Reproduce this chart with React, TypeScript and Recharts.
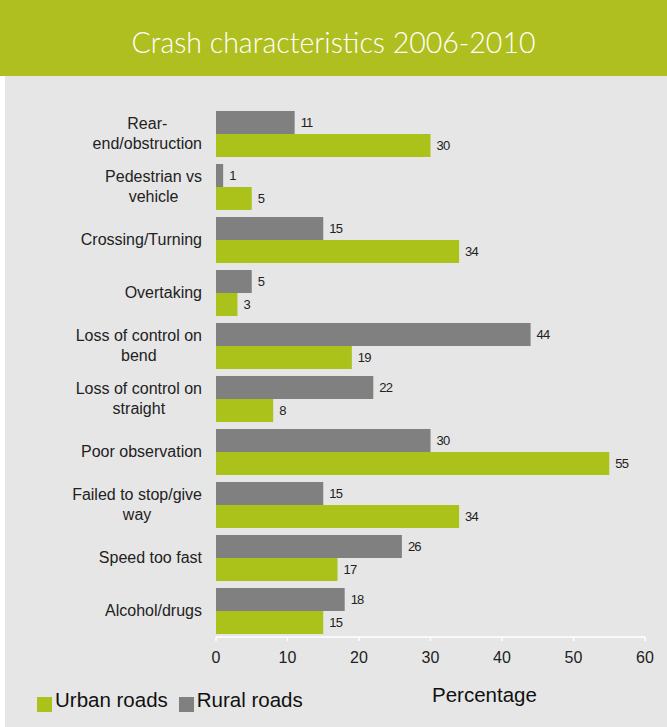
import React from 'react';
import { BarChart, Bar, XAxis, YAxis, LabelList } from 'recharts';

const categories = [
  'Rear-\nend/obstruction',
  'Pedestrian vs\nvehicle',
  'Crossing/Turning',
  'Overtaking',
  'Loss of control on\nbend',
  'Loss of control on\nstraight',
  'Poor observation',
  'Failed to stop/give\nway',
  'Speed too fast',
  'Alcohol/drugs',
];
const ruralValues = [11, 1, 15, 5, 44, 22, 30, 15, 26, 18];
const urbanValues = [30, 5, 34, 3, 19, 8, 55, 34, 17, 15];
const xTicks = [0, 10, 20, 30, 40, 50, 60];

const GREEN = '#abc21a';
const GREY = '#808080';
const BG = '#e6e6e6';
const FONT = '"Liberation Sans", Arial, sans-serif';
const LABEL_SIZE = 16;

const data = categories.map((name, i) => ({ name, rural: ruralValues[i], urban: urbanValues[i] }));

let ctx: CanvasRenderingContext2D | null = null;
const measure = (s: string) => {
  if (!ctx) {
    ctx = document.createElement('canvas').getContext('2d');
  }
  if (!ctx) return s.length * 7;
  ctx.font = `${LABEL_SIZE}px ${FONT}`;
  return ctx.measureText(s).width;
};

const CategoryTick = (props: any) => {
  const { x, y, payload } = props;
  const lines: string[] = String(payload.value).split('\n');
  const maxW = Math.max(...lines.map(measure));
  const cx = x - maxW / 2;
  const lh = 20;
  const start = y - ((lines.length - 1) * lh) / 2;
  return (
    <g>
      {lines.map((l, i) => (
        <text key={i} x={cx} y={start + i * lh} dy="0.35em" textAnchor="middle"
          fontFamily={FONT} fontSize={LABEL_SIZE} fill="#222">
          {l}
        </text>
      ))}
    </g>
  );
};

const valueStyle = { fill: '#222', fontSize: 13, fontFamily: FONT, letterSpacing: -0.8 };

export default function App() {
  return (
    <div style={{ position: 'absolute', left: 0, top: 0, width: 667, height: 727, background: '#fff', overflow: 'hidden' }}>
      <div style={{ position: 'absolute', left: 5, top: 76, width: 662, height: 651, background: BG }} />
      <div style={{
        position: 'absolute', left: 0, top: 0, width: 667, height: 76, background: '#b0bf20',
        color: '#fff', fontFamily: 'Lato, "Open Sans", sans-serif', fontWeight: 300, fontSize: 28.5,
        display: 'flex', alignItems: 'center', justifyContent: 'center', paddingBottom: 0, paddingTop: 8, boxSizing: 'border-box',
      }}>
        Crash characteristics 2006-2010
      </div>
      <div style={{ position: 'absolute', left: 0, top: 0 }}>
        <BarChart width={667} height={727} data={data} layout="vertical"
          margin={{ top: 107, right: 22, bottom: 60, left: 0 }} barGap={0} barSize={23}>
          <XAxis type="number" domain={[0, 60]} ticks={xTicks} height={30}
            axisLine={{ stroke: '#fff', strokeWidth: 1.5 }} tickLine={{ stroke: '#fff', strokeWidth: 1.5 }}
            tickSize={4} tickMargin={11}
            tick={{ fill: '#222', fontSize: 16, fontFamily: FONT }} />
          <YAxis type="category" dataKey="name" width={216} axisLine={false} tickLine={false}
            tickSize={0} tickMargin={14} tick={<CategoryTick />} interval={0} />
          <Bar dataKey="rural" fill={GREY} isAnimationActive={false}>
            <LabelList dataKey="rural" position="right" offset={6} style={valueStyle} />
          </Bar>
          <Bar dataKey="urban" fill={GREEN} isAnimationActive={false}>
            <LabelList dataKey="urban" position="right" offset={6} style={valueStyle} />
          </Bar>
        </BarChart>
      </div>
      <div style={{ position: 'absolute', left: 432, top: 683, fontFamily: FONT, fontSize: 20.5, color: '#111' }}>
        Percentage
      </div>
      <div style={{ position: 'absolute', left: 37, top: 688, display: 'flex', alignItems: 'center', fontFamily: FONT, fontSize: 20.5, color: '#111' }}>
        <span style={{ display: 'inline-block', width: 15, height: 15, background: GREEN, marginTop: 8 }} />
        <span style={{ marginLeft: 3 }}>Urban roads</span>
        <span style={{ display: 'inline-block', width: 15, height: 15, background: GREY, marginLeft: 11, marginTop: 8 }} />
        <span style={{ marginLeft: 3 }}>Rural roads</span>
      </div>
    </div>
  );
}
